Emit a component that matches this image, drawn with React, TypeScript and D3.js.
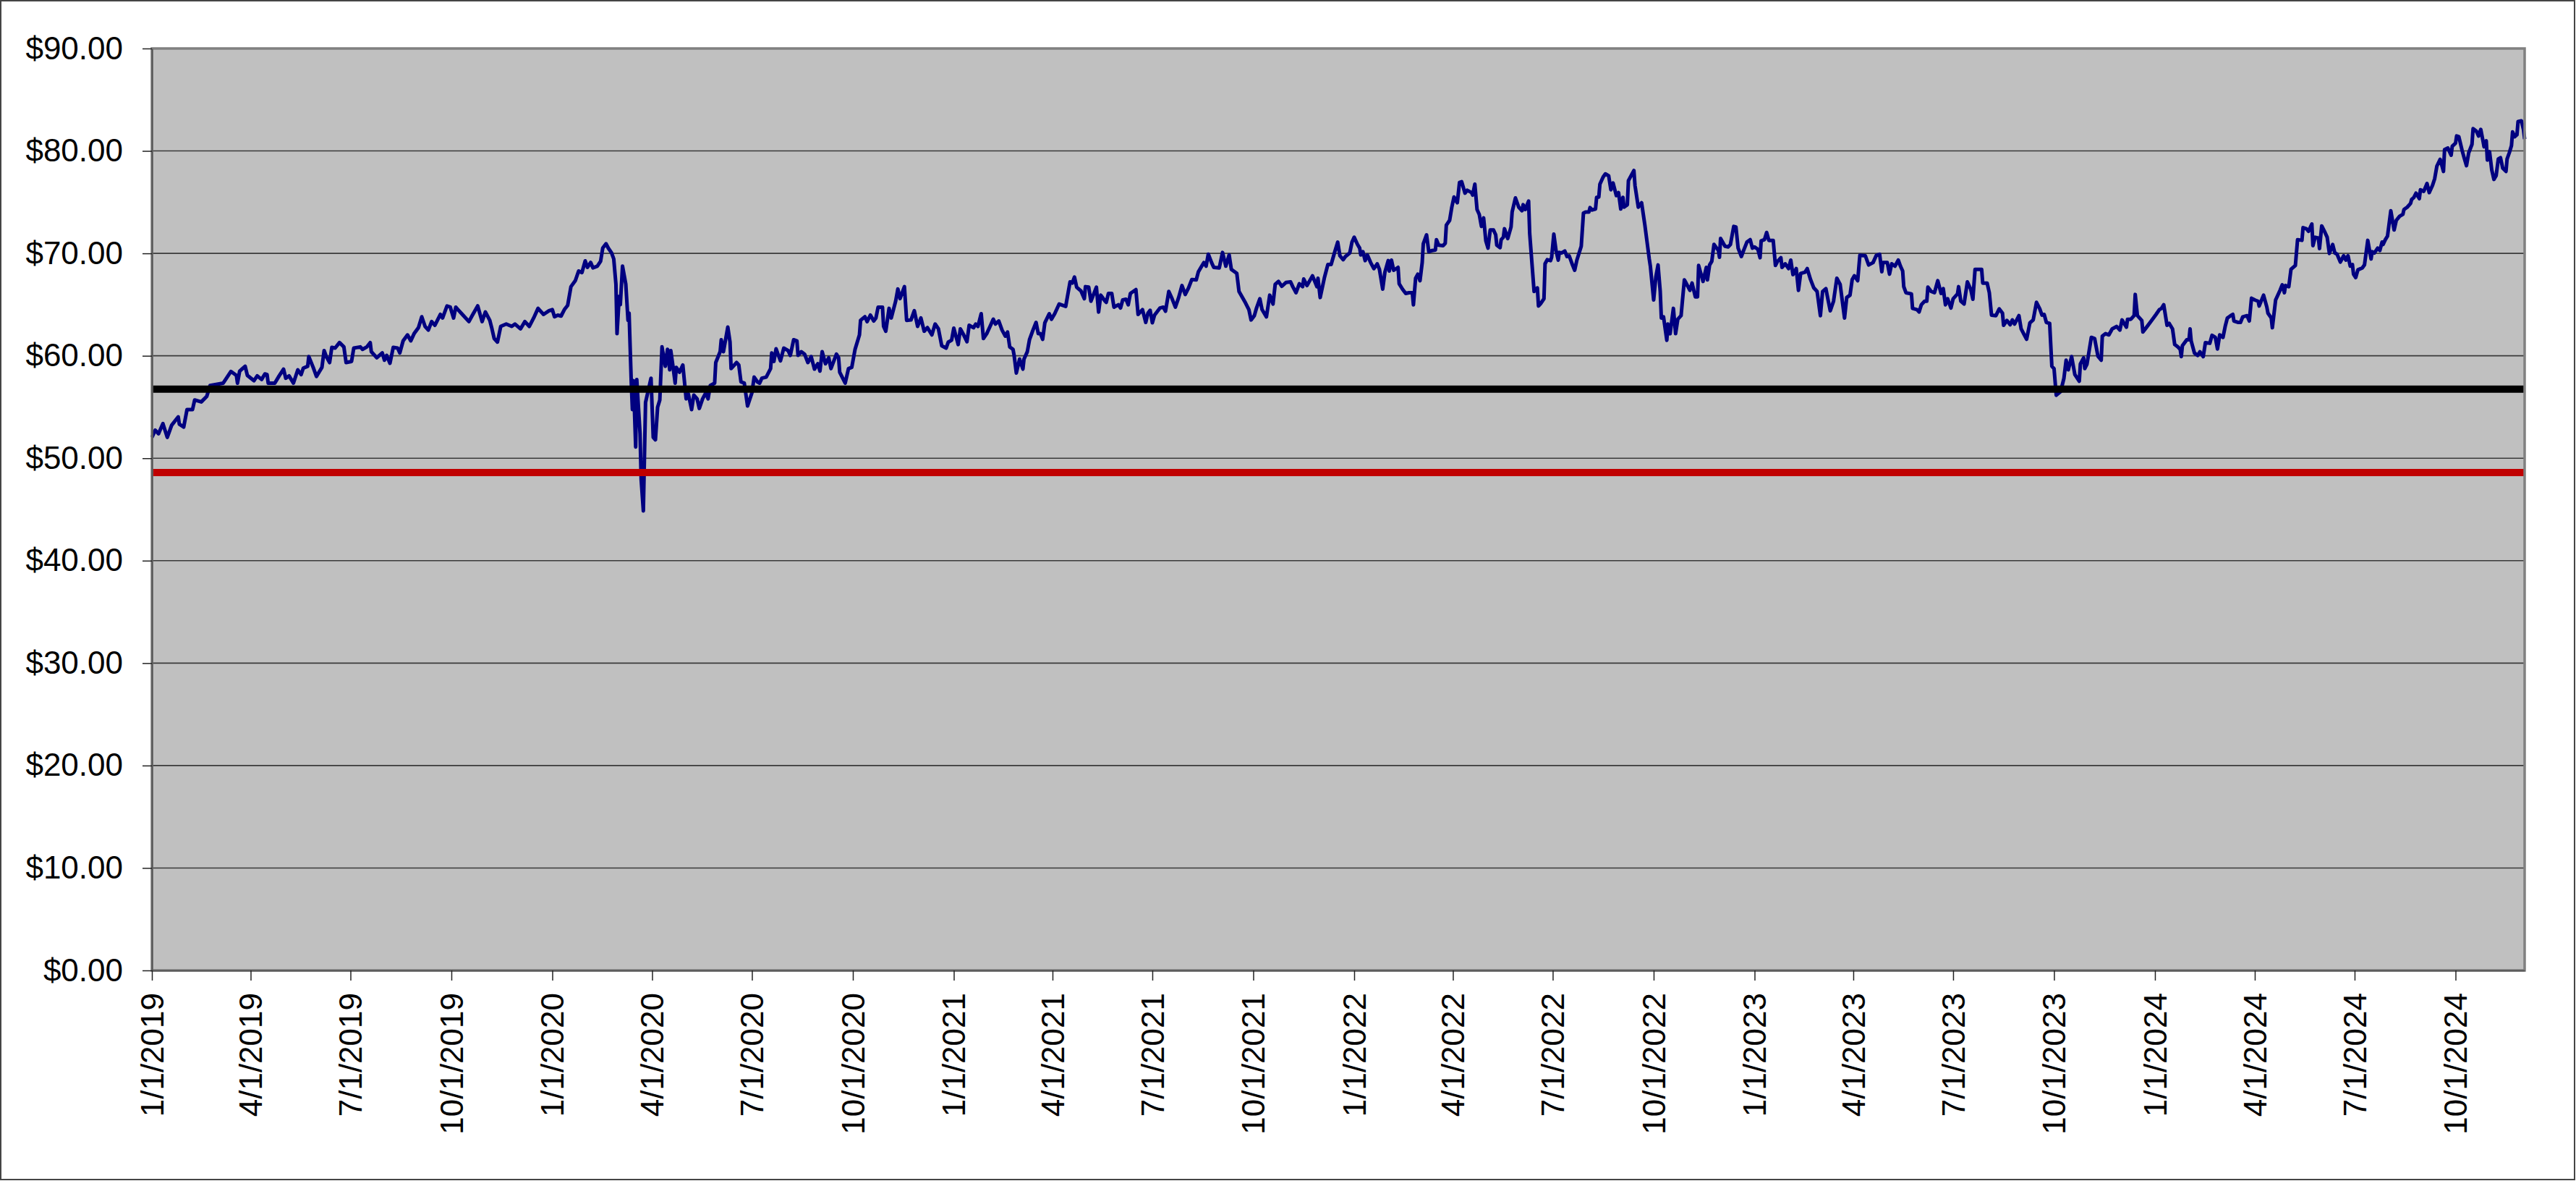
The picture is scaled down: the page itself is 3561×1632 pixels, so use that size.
import React, { useEffect, useRef } from "react";
import * as d3 from "d3";

// [days since 1/1/2019, price]
const START_DATE = Date.UTC(2019, 0, 1);

const prices2019: [number, number][] = [
  [0,52.04],[3,52.74],[6,52.39],[10,53.38],[14,52.04],[18,53.22],[24,54.04],[25,53.33],[29,53.05],[32,54.75],[37,54.75],[39,55.69],[45,55.5],[50,56.04],[53,57.1],[65,57.33],[72,58.47],[77,58.09],[78,57.33],[80,58.51],[85,58.98],[87,58.09],[93,57.57],[96,58.04],[100,57.69],[103,58.23],[105,58.16],[106,57.33],[112,57.33],[116,58.04],[120,58.7],[122,57.81],[125,58.04],[129,57.33],[133,58.63],[136,58.16],[138,58.79],[142,58.98],[143,59.92],[147,58.87],[150,57.99],[155,58.87],[157,60.51],[159,59.92],[162,59.34],[164,60.82],[167,60.75],[171,61.29],[175,60.87],[177,59.34],[182,59.45],[184,60.75],[190,60.87],[192,60.63],[196,60.87],[199,61.29],[200,60.4],[205,59.81],[210,60.28],[212,59.57],[214,60.04],[217,59.27],[220,60.82],[224,60.75],[226,60.28],[229,61.46],[233,62.04],[236,61.46],[239,62.16],[243,62.75],[246,63.81],[249,62.87],[252,62.51],[255,63.34],[258,62.98],[263,64.04],[265,63.69],[269,64.87],[272,64.75],[275,63.69],[277,64.75],[279,64.51],[283,64.04],[289,63.34],[292,63.93],[297,64.87],[301,63.34],[304,64.28],[308,63.46],[310,62.63],[312,61.69],[315,61.34],[318,62.87],[323,63.1],[328,62.87],[331,63.1],[336,62.63],[340,63.34],[344,62.87],[348,63.69],[352,64.63],[357,64.04],[362,64.4],[365,64.51],
];

const prices2020: [number, number][] = [
  [367,63.81],[370,63.97],[373,63.88],[376,64.51],[379,64.92],[382,66.75],[386,67.34],[389,68.28],[392,68.12],[395,69.27],[397,68.63],[400,69.11],[402,68.59],[406,68.75],[409,69.22],[411,70.52],[414,70.94],[416,70.52],[419,70.05],[421,69.46],[423,66.99],[424,62.16],[426,65.81],[427,64.99],[429,68.75],[432,66.99],[434,63.46],[435,64.16],[437,57.33],[438,54.75],[439,57.57],[441,51.1],[442,57.68],[445,52.39],[446,47.92],[448,44.86],[450,55.45],[455,57.81],[457,52.04],[459,51.8],[461,54.98],[463,55.69],[465,60.87],[468,58.98],[470,60.63],[472,58.63],[473,60.51],[475,58.98],[477,57.33],[478,58.87],[481,58.4],[484,59.1],[487,55.8],[489,56.28],[492,54.75],[494,56.16],[497,55.8],[499,54.86],[502,55.8],[505,56.39],[507,55.8],[509,57.1],[513,57.33],[514,59.34],[518,60.4],[519,61.57],[521,60.4],[525,62.8],[527,61.34],[528,58.75],[533,59.34],[535,59.1],[537,57.45],[540,57.33],[543,55.1],[547,56.39],[549,57.92],[552,57.45],[554,57.33],[556,57.81],[560,57.92],[564,58.75],[565,60.28],[567,59.45],[569,60.68],[573,59.5],[576,60.75],[580,60.51],[582,60.04],[585,61.57],[588,61.46],[589,60.04],[592,60.4],[595,60.16],[598,59.34],[601,59.92],[604,58.7],[607,59.22],[609,58.51],[611,60.4],[614,59.22],[617,59.81],[619,58.75],[624,60.16],[626,59.81],[627,58.4],[632,57.33],[635,58.75],[638,58.87],[641,60.63],[645,62.04],[646,63.46],[650,63.81],[652,63.34],[655,63.97],[658,63.4],[660,63.69],[662,64.75],[666,64.75],[667,62.87],[669,62.4],[672,64.63],[674,63.69],[678,65.34],[680,66.52],[682,65.58],[686,66.75],[688,63.46],[692,63.5],[695,64.4],[698,62.87],[701,63.69],[704,62.4],[707,62.75],[711,62.04],[714,63.1],[717,62.63],[720,60.98],[724,60.75],[726,61.34],
];

const prices2021: [number, number][] = [
  [729,61.52],[731,62.7],[735,61.1],[737,62.63],[740,62.04],[743,61.38],[745,62.98],[749,62.74],[751,63.1],[753,62.86],[756,64.11],[758,61.69],[761,62.16],[764,62.86],[767,63.57],[769,63.1],[772,63.4],[775,62.51],[778,61.92],[780,62.32],[782,60.86],[785,60.63],[786,60.04],[788,58.32],[791,59.68],[794,58.7],[795,59.68],[798,60.39],[800,61.57],[803,62.46],[806,63.26],[808,62.16],[810,62.16],[812,61.61],[814,63.22],[818,64.11],[820,63.57],[823,64.11],[827,65.05],[833,64.82],[837,67.22],[839,67.1],[841,67.69],[843,66.7],[847,66.32],[850,65.57],[851,66.75],[854,66.7],[856,65.33],[861,66.7],[863,64.27],[865,65.92],[869,65.33],[870,65.22],[872,66.09],[875,66.09],[877,64.75],[881,64.98],[883,64.67],[885,65.45],[888,65.52],[890,64.98],[892,66.09],[897,66.46],[899,64.04],[903,64.51],[906,63.26],[908,64.16],[910,64.44],[912,63.22],[914,63.97],[919,64.67],[922,64.75],[924,64.35],[927,66.28],[930,65.57],[933,64.75],[936,65.69],[939,66.86],[942,65.99],[945,66.63],[948,67.45],[952,67.41],[954,68.21],[957,68.75],[959,69.1],[961,68.75],[963,69.92],[966,69.1],[968,68.63],[973,68.58],[976,70.09],[979,68.75],[982,69.85],[984,68.44],[989,68.04],[991,66.28],[997,65.15],[1000,64.51],[1002,63.5],[1005,63.92],[1007,64.67],[1010,65.57],[1012,64.51],[1016,63.8],[1019,65.92],[1022,65.05],[1024,66.98],[1027,67.26],[1030,66.79],[1034,67.17],[1038,67.22],[1040,66.75],[1043,66.16],[1046,67.03],[1049,66.75],[1050,67.5],[1053,66.86],[1058,67.81],[1062,66.75],[1063,67.57],[1065,65.69],[1069,67.69],[1072,68.91],[1075,68.91],[1078,70.04],[1081,71.1],[1083,69.76],[1086,69.38],
];

const prices2022: [number, number][] = [
  [1088,69.69],[1092,70.04],[1094,71.1],[1096,71.57],[1099,70.87],[1101,70.51],[1102,69.85],[1104,70.16],[1106,69.29],[1108,69.85],[1111,69.1],[1114,68.51],[1117,68.98],[1119,68.44],[1122,66.51],[1124,68.16],[1127,69.29],[1128,68.28],[1130,69.34],[1132,68.35],[1136,68.63],[1137,67.03],[1140,66.51],[1143,66.09],[1146,66.16],[1149,66.16],[1150,64.98],[1152,67.57],[1154,67.97],[1156,67.33],[1158,69.1],[1159,70.94],[1162,71.81],[1164,70.16],[1167,70.28],[1170,70.32],[1171,71.34],[1173,70.8],[1177,70.75],[1179,70.98],[1180,72.75],[1183,73.22],[1185,74.51],[1187,75.5],[1190,74.94],[1192,76.92],[1194,76.99],[1197,75.88],[1199,76.16],[1203,75.93],[1204,75.69],[1206,76.75],[1208,74.28],[1210,73.81],[1212,72.63],[1214,73.46],[1216,71.22],[1218,70.51],[1220,72.28],[1223,72.28],[1225,71.81],[1226,70.8],[1229,70.56],[1230,71.34],[1232,71.57],[1233,72.4],[1236,71.45],[1239,72.58],[1240,74.04],[1243,75.41],[1246,74.51],[1249,74.16],[1250,74.75],[1252,74.28],[1255,75.1],[1256,71.93],[1259,67.69],[1260,66.28],[1263,66.63],[1264,64.86],[1266,65.1],[1269,65.57],[1270,68.98],[1272,69.38],[1275,69.29],[1276,69.62],[1278,71.88],[1280,70.28],[1282,69.34],[1283,70.09],[1285,70.04],[1288,70.23],[1290,69.69],[1292,69.76],[1295,68.87],[1297,68.35],[1299,69.34],[1303,70.7],[1305,73.93],[1307,74.04],[1310,74.04],[1311,74.47],[1313,74.23],[1316,74.33],[1317,75.46],[1319,75.5],[1320,76.75],[1323,77.46],[1325,77.76],[1328,77.58],[1330,76.21],[1332,76.87],[1335,75.64],[1337,75.93],[1339,74.33],[1341,75.46],[1342,74.51],[1345,74.75],[1346,77.1],[1349,77.69],[1351,78.09],[1352,76.63],[1355,74.51],[1358,74.94],[1361,72.75],[1363,71.1],[1365,69.45],[1366,68.75],[1369,65.45],[1371,67.69],[1373,68.87],[1375,66.28],[1376,63.69],[1378,63.8],[1381,61.52],[1382,63.1],[1384,62.16],[1387,64.63],[1389,62.16],[1391,63.57],[1394,63.92],[1395,65.1],[1397,67.41],[1398,67.22],[1402,66.39],[1404,67.1],[1407,65.76],[1409,65.76],[1410,68.82],[1414,67.26],[1417,68.63],[1418,67.41],[1420,68.87],[1422,69.22],[1424,70.87],[1428,70.28],[1429,69.62],[1430,71.45],[1434,70.7],[1437,70.63],[1439,70.87],[1442,72.63],[1444,72.58],[1446,70.51],[1449,69.69],[1451,70.28],[1454,71.1],[1457,71.34],
];

const prices2023: [number, number][] = [
  [1459,70.51],[1461,70.63],[1464,70.4],[1466,69.57],[1467,71.22],[1470,71.34],[1472,72.04],[1474,71.27],[1478,71.27],[1480,68.82],[1482,69.22],[1485,69.57],[1486,68.63],[1489,68.98],[1492,68.51],[1494,69.34],[1496,67.92],[1499,68.51],[1501,66.39],[1503,68.04],[1507,68.16],[1509,68.51],[1512,67.45],[1515,66.63],[1518,66.28],[1521,63.92],[1523,66.28],[1526,66.56],[1528,65.45],[1530,64.39],[1533,65.33],[1536,67.57],[1539,66.98],[1543,63.69],[1545,65.69],[1548,65.92],[1550,67.45],[1552,67.81],[1555,67.33],[1557,69.81],[1562,69.76],[1565,68.87],[1569,69.1],[1572,69.81],[1575,69.92],[1577,68.21],[1578,69.1],[1582,69.1],[1584,67.97],[1586,68.98],[1589,68.75],[1592,69.34],[1594,68.75],[1596,68.28],[1597,66.75],[1599,66.16],[1604,66.04],[1605,64.63],[1609,64.51],[1611,64.28],[1613,64.98],[1616,65.33],[1618,65.33],[1619,66.7],[1622,66.28],[1625,66.16],[1628,67.33],[1631,66.09],[1633,66.56],[1635,64.98],[1637,65.57],[1640,64.67],[1642,65.57],[1646,66.04],[1647,66.75],[1649,65.33],[1652,65.05],[1655,67.22],[1658,66.51],[1660,65.52],[1662,68.44],[1668,68.44],[1669,67.1],[1673,67.1],[1675,66.16],[1677,63.97],[1681,63.92],[1684,64.58],[1687,64.16],[1688,62.98],[1691,63.45],[1694,63.03],[1696,63.5],[1698,63.1],[1702,63.92],[1704,62.63],[1709,61.61],[1712,63.22],[1715,63.5],[1718,65.22],[1721,64.58],[1723,63.97],[1725,64.04],[1727,63.26],[1730,63.16],[1732,58.98],[1734,58.75],[1736,56.15],[1740,56.51],[1743,57.8],[1745,59.57],[1747,58.63],[1750,59.92],[1753,58.16],[1757,57.52],[1758,59.21],[1761,59.8],[1762,58.75],[1764,59.17],[1768,61.8],[1771,61.69],[1774,59.97],[1777,59.57],[1778,61.92],[1781,62.16],[1784,62.04],[1787,62.63],[1791,62.86],[1794,62.51],[1796,63.5],[1800,62.79],[1801,63.57],[1804,63.57],[1807,63.92],[1808,65.99],[1810,63.92],[1814,63.45],[1815,62.32],[1818,62.74],[1823,63.45],
];

const prices2024: [number, number][] = [
  [1827,64.04],[1830,64.51],[1832,64.63],[1834,64.98],[1837,62.98],[1839,63.16],[1842,62.63],[1844,61.1],[1847,60.86],[1849,60.63],[1850,59.92],[1851,60.98],[1855,61.57],[1857,61.57],[1858,62.63],[1859,61.45],[1862,60.27],[1865,60.04],[1867,60.39],[1870,59.92],[1872,61.29],[1876,61.22],[1878,62.0],[1881,61.8],[1883,60.67],[1885,62.04],[1888,61.8],[1890,62.86],[1892,63.69],[1895,63.92],[1897,64.04],[1898,63.4],[1902,63.26],[1904,63.26],[1906,63.8],[1910,63.92],[1912,63.4],[1914,65.62],[1917,65.45],[1920,65.33],[1921,64.86],[1925,65.92],[1928,64.75],[1929,64.16],[1932,63.69],[1933,62.74],[1936,65.45],[1940,66.39],[1942,66.93],[1944,66.16],[1945,66.86],[1948,66.75],[1950,68.44],[1954,68.82],[1956,71.34],[1960,71.27],[1961,72.51],[1964,72.4],[1966,72.16],[1969,72.87],[1970,70.75],[1972,71.57],[1975,71.5],[1976,70.47],[1978,72.68],[1981,72.04],[1983,71.57],[1985,69.99],[1988,70.87],[1990,70.04],[1992,69.92],[1995,69.15],[1998,69.76],[2000,69.34],[2002,69.76],[2004,68.75],[2006,68.91],[2007,67.97],[2009,67.64],[2011,68.39],[2015,68.58],[2017,68.87],[2020,71.27],[2023,69.45],[2024,70.16],[2026,70.04],[2029,70.51],[2031,70.28],[2033,71.1],[2034,70.87],[2036,71.34],[2038,71.69],[2041,74.16],[2044,72.28],[2046,73.22],[2049,73.62],[2052,73.81],[2053,74.28],[2056,74.51],[2059,74.87],[2060,75.27],[2062,75.46],[2064,75.88],[2067,75.34],[2068,76.21],[2071,76.05],[2074,76.82],[2076,75.93],[2079,76.63],[2081,77.29],[2083,78.52],[2086,79.18],[2089,78.0],[2090,80.12],[2093,80.28],[2096,79.58],[2097,80.45],[2100,80.75],[2101,81.46],[2103,81.39],[2106,80.05],[2108,79.27],[2110,78.56],[2112,79.81],[2115,80.64],[2116,82.17],[2119,81.93],[2121,81.46],[2123,82.1],[2125,80.99],[2126,80.4],[2128,80.99],[2129,79.11],[2131,79.93],[2133,78.16],[2135,77.22],[2137,77.58],[2139,79.22],[2141,79.34],[2143,78.33],[2146,78.0],[2147,79.22],[2149,79.81],[2151,80.52],[2152,81.86],[2154,81.39],[2156,81.58],[2157,82.87],[2160,82.94],[2162,82.05],[2163,81.15],
];

const upperLevel = 56.75;
const lowerLevel = 48.6;
const yTickValues = [0, 10, 20, 30, 40, 50, 60, 70, 80, 90];

const W = 3561;
const H = 1632;
const FONT = "'Liberation Sans', Arial, Helvetica, sans-serif";

export default function App() {
  const ref = useRef<SVGSVGElement>(null);

  useEffect(() => {
    const svg = d3.select(ref.current);
    svg.selectAll("*").remove();

    const left = 210, right = 3490, top = 67, bottom = 1341;

    const data = [...prices2019, ...prices2020, ...prices2021, ...prices2022, ...prices2023, ...prices2024].map(
      ([d, v]) => ({ date: new Date(START_DATE + d * 86400000), value: v })
    );

    const x = d3.scaleUtc()
      .domain(d3.extent(data, (d) => d.date) as [Date, Date])
      .range([left, right]);
    const y = d3.scaleLinear().domain([0, 90]).range([bottom, top]);

    // chart background & outer border
    svg.append("rect")
      .attr("x", 1).attr("y", 1).attr("width", W - 3).attr("height", H - 3)
      .attr("fill", "#ffffff").attr("stroke", "#444").attr("stroke-width", 2);

    // plot area
    svg.append("rect")
      .attr("x", left).attr("y", top).attr("width", right - left).attr("height", bottom - top)
      .attr("fill", "#c0c0c0");

    // gridlines
    svg.append("g")
      .selectAll("line")
      .data(yTickValues.filter((v) => v > 0 && v < 90))
      .join("line")
      .attr("x1", left).attr("x2", right)
      .attr("y1", (d) => y(d)).attr("y2", (d) => y(d))
      .attr("stroke", "#3a3a3a").attr("stroke-width", 1.6);

    // price series
    const line = d3.line<{ date: Date; value: number }>()
      .x((d) => x(d.date))
      .y((d) => y(d.value));
    svg.append("path")
      .datum(data)
      .attr("d", line)
      .attr("fill", "none")
      .attr("stroke", "#000080")
      .attr("stroke-width", 5)
      .attr("stroke-linejoin", "round");

    // level lines
    const levels = [
      { value: upperLevel, color: "#000000" },
      { value: lowerLevel, color: "#c00000" },
    ];
    svg.append("g")
      .selectAll("line")
      .data(levels)
      .join("line")
      .attr("x1", left).attr("x2", right)
      .attr("y1", (d) => y(d.value)).attr("y2", (d) => y(d.value))
      .attr("stroke", (d) => d.color)
      .attr("stroke-width", 10);

    // plot border
    svg.append("rect")
      .attr("x", left).attr("y", top).attr("width", right - left).attr("height", bottom - top)
      .attr("fill", "none").attr("stroke", "#808080").attr("stroke-width", 3.5);

    // Y axis
    const yAxis = d3.axisLeft(y)
      .tickValues(yTickValues)
      .tickFormat((d) => d3.format("$.2f")(d as number))
      .tickSize(13)
      .tickSizeOuter(0)
      .tickPadding(27);
    const gy = svg.append("g")
      .attr("transform", `translate(${left},0)`)
      .call(yAxis);
    gy.select(".domain").attr("stroke", "#555").attr("stroke-width", 2);
    gy.selectAll(".tick line").attr("stroke", "#222").attr("stroke-width", 1.5);
    gy.selectAll("text")
      .attr("font-family", FONT)
      .attr("font-size", 44)
      .attr("fill", "#000");

    // X axis
    const xAxis = d3.axisBottom(x)
      .ticks(d3.utcMonth.every(3))
      .tickFormat((d) => d3.utcFormat("%-m/%-d/%Y")(d as Date))
      .tickSize(14)
      .tickSizeOuter(0);
    const gx = svg.append("g")
      .attr("transform", `translate(0,${bottom})`)
      .call(xAxis);
    gx.select(".domain").attr("stroke", "#555").attr("stroke-width", 2);
    gx.selectAll(".tick line").attr("stroke", "#222").attr("stroke-width", 1.5);
    gx.selectAll("text")
      .attr("font-family", FONT)
      .attr("font-size", 44)
      .attr("fill", "#000")
      .attr("transform", "rotate(-90)")
      .attr("text-anchor", "end")
      .attr("x", -31)
      .attr("y", 0)
      .attr("dy", "0.35em");
  }, []);

  return (
    <div style={{ position: "absolute", left: 0, top: 0 }}>
      <svg ref={ref} width={W} height={H} style={{ display: "block" }} />
    </div>
  );
}
